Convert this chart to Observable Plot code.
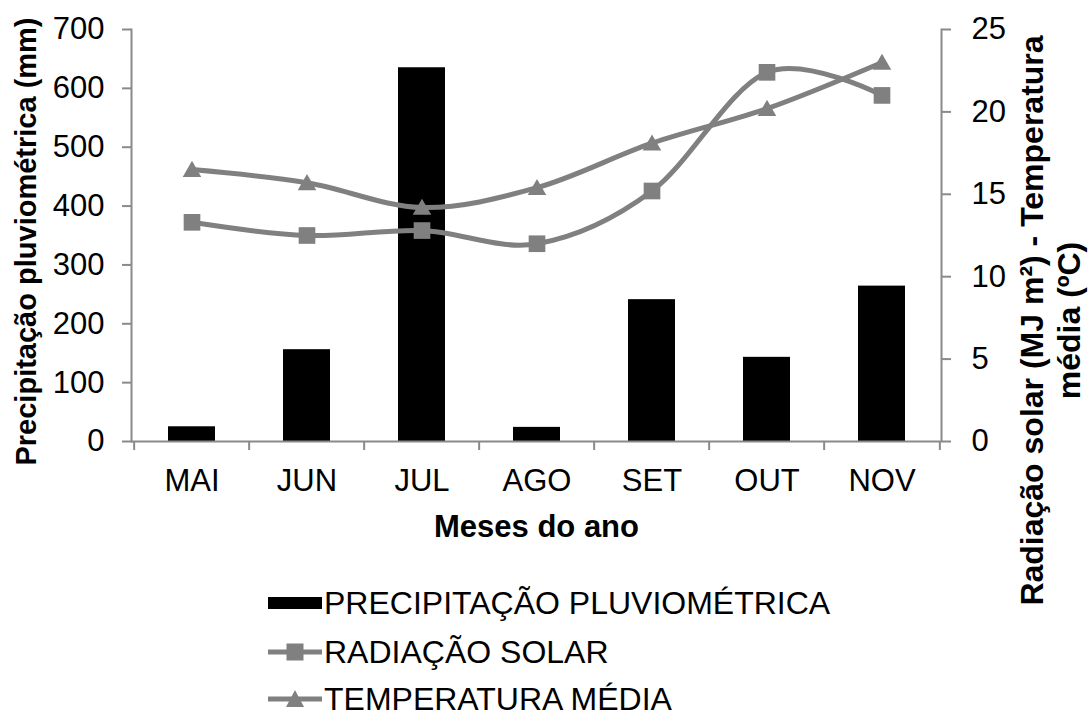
<!DOCTYPE html>
<html>
<head>
<meta charset="utf-8">
<script src="https://cdn.jsdelivr.net/npm/d3@7"></script>
<script src="https://cdn.jsdelivr.net/npm/@observablehq/plot@0.6"></script>
<style>
  html, body { margin: 0; background: #fff; font-family: "Liberation Sans", Arial, sans-serif; overflow: hidden; }
  #wrap { position: relative; width: 1088px; height: 718px; }
  #legend { position: absolute; left: 268px; top: 0; }
  .row { position: absolute; left: 0; display: flex; align-items: center; height: 34px; font-size: 32px; line-height: 34px; color: #000; white-space: nowrap; }
  .row svg { margin-right: 2px; flex: none; }
</style>
</head>
<body>
<div id="wrap">
  <div id="chart"></div>
  <div id="legend"></div>
</div>
<script>
// Monthly climate data
const months = ["MAI", "JUN", "JUL", "AGO", "SET", "OUT", "NOV"];
const precipitacao = [25, 156, 635, 24, 241, 143, 264];          // mm
const radiacao = [13.3, 12.5, 12.8, 12.0, 15.2, 22.4, 21.0];     // MJ m²
const temperatura = [16.5, 15.7, 14.2, 15.4, 18.1, 20.2, 23.0];  // ºC

const leftTicks = [0, 100, 200, 300, 400, 500, 600, 700];
const rightTicks = [0, 5, 10, 15, 20, 25];
const leftDomain = [0, 700];
const rightDomain = [0, 25];

const leftTitle = "Precipitação pluviométrica (mm)";
const rightTitle = "Radiação solar (MJ m²) - Temperatura\nmédia (ºC)";
const xTitle = "Meses do ano";
const legendItems = [
  {label: "PRECIPITAÇÃO PLUVIOMÉTRICA", kind: "bar"},
  {label: "RADIAÇÃO SOLAR", kind: "square"},
  {label: "TEMPERATURA MÉDIA", kind: "triangle"}
];

const rows = months.map((m, i) => ({month: m, prec: precipitacao[i], rad: radiacao[i], temp: temperatura[i]}));

// Layout
const W = 1088, H = 718, ML = 131, MR = 147, MT = 29, MB = H - 441;
const step = (W - ML - MR) / months.length;
// secondary axis values are mapped onto the precipitation scale
const k = leftDomain[1] / rightDomain[1];

const grey = "#808080";
const axisGrey = "#8a8a8a";
const font = '"Liberation Sans", Arial, sans-serif';

const chart = Plot.plot({
  width: W,
  height: H,
  marginLeft: ML,
  marginRight: MR,
  marginTop: MT,
  marginBottom: MB,
  style: {fontFamily: font, fontSize: "31px", color: "#000", background: "#fff"},
  x: {type: "band", domain: months, paddingInner: 0.595, paddingOuter: 0.2975},
  y: {domain: leftDomain},
  marks: [
    Plot.barY(rows, {x: "month", y: "prec", fill: "#000"}),
    Plot.ruleY([0], {stroke: axisGrey, strokeWidth: 2}),
    Plot.frame({anchor: "left", stroke: axisGrey, strokeWidth: 2}),
    Plot.frame({anchor: "right", stroke: axisGrey, strokeWidth: 2}),
    Plot.axisY({anchor: "left", ticks: leftTicks, tickSize: 9, tickPadding: 18, fontSize: 31,
      stroke: axisGrey, strokeWidth: 2, fill: "#000", label: null}),
    Plot.axisY({anchor: "right", ticks: rightTicks.map(v => v * k), tickFormat: v => v / k,
      tickSize: 9, tickPadding: 21, fontSize: 31, stroke: axisGrey, strokeWidth: 2, fill: "#000", label: null}),
    // category boundary ticks
    Plot.axisX({ticks: months, tickSize: 9, tickFormat: () => "", dx: -step / 2,
      stroke: axisGrey, strokeWidth: 2, label: null}),
    Plot.axisX({ticks: months.slice(-1), tickSize: 9, tickFormat: () => "", dx: step / 2,
      stroke: axisGrey, strokeWidth: 2, label: null}),
    // month labels
    Plot.axisX({ticks: months, tickSize: 0, tickPadding: 27, fontSize: 31, fill: "#000", label: null}),
    // series lines
    Plot.lineY(rows, {x: "month", y: d => d.rad * k, curve: "cardinal", stroke: grey, strokeWidth: 5}),
    Plot.lineY(rows, {x: "month", y: d => d.temp * k, curve: "cardinal", stroke: grey, strokeWidth: 5}),
    Plot.dot(rows, {x: "month", y: d => d.rad * k, symbol: "square", r: 9.4, fill: grey}),
    Plot.dot(rows, {x: "month", y: d => d.temp * k, symbol: "triangle", r: 6.9, dy: 2, fill: grey}),
    // axis titles
    Plot.text([leftTitle], {text: d => d, frameAnchor: "left", dx: -105, dy: 6, rotate: -90,
      textAnchor: "middle", lineAnchor: "middle", fontWeight: "bold", fontSize: 29}),
    Plot.text([rightTitle], {text: d => d, frameAnchor: "right", dx: 108, dy: 85, rotate: -90,
      textAnchor: "middle", lineAnchor: "middle", lineHeight: 1.15, fontWeight: "bold", fontSize: 32}),
    Plot.text([xTitle], {text: d => d, frameAnchor: "bottom", dy: 86, textAnchor: "middle",
      lineAnchor: "middle", fontWeight: "bold", fontSize: 31})
  ]
});
document.getElementById("chart").append(chart);

// Legend below the plot area
const legend = document.getElementById("legend");
const ns = "http://www.w3.org/2000/svg";
const rowTops = [586, 635, 682];
legendItems.forEach((item, i) => {
  const row = document.createElement("div");
  row.className = "row";
  row.style.top = rowTops[i] + "px";
  const sw = document.createElementNS(ns, "svg");
  sw.setAttribute("width", 54);
  sw.setAttribute("height", 22);
  if (item.kind === "bar") {
    sw.innerHTML = `<rect x="0" y="5" width="54" height="12" fill="#000"/>`;
  } else {
    const marker = item.kind === "square"
      ? `<rect x="18.5" y="2.5" width="17" height="17" fill="${grey}"/>`
      : `<path d="M27,2 L36,19 L18,19 Z" fill="${grey}"/>`;
    sw.innerHTML = `<line x1="0" y1="11" x2="54" y2="11" stroke="${grey}" stroke-width="5"/>` + marker;
  }
  row.append(sw);
  const span = document.createElement("span");
  span.textContent = item.label;
  row.append(span);
  legend.append(row);
});
</script>
</body>
</html>
